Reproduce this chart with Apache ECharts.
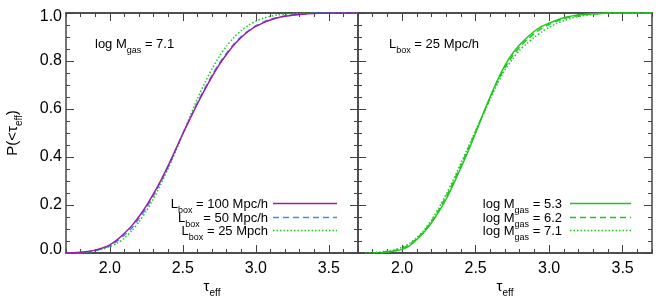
<!DOCTYPE html>
<html><head><meta charset="utf-8">
<script src="https://cdn.jsdelivr.net/npm/echarts@6/dist/echarts.min.js"></script>
<style>html,body{margin:0;padding:0;background:#fff}#c{width:664px;height:299px}</style>
</head><body><div id="c"></div>
<script>
// ---------- data ----------
const tau = [1.70,1.75,1.80,1.85,1.90,1.95,2.00,2.05,2.10,2.15,2.20,2.25,2.30,2.35,2.40,2.45,2.50,2.55,2.60,2.65,2.70,2.75,2.80,2.85,2.90,2.95,3.00,3.05,3.10,3.15,3.20,3.25,3.30,3.35,3.40,3.45,3.50,3.55,3.60,3.65,3.70];

// left panel: log Mgas = 7.1, different box sizes
const lbox100 = [0.000,0.001,0.003,0.006,0.012,0.021,0.034,0.055,0.082,0.113,0.152,0.196,0.247,0.303,0.364,0.430,0.497,0.560,0.622,0.680,0.735,0.785,0.828,0.867,0.898,0.924,0.944,0.959,0.971,0.980,0.986,0.991,0.994,0.997,0.998,0.999,1,1,1,1,1];
const lbox50  = [0.000,0.001,0.002,0.005,0.010,0.018,0.030,0.049,0.074,0.104,0.143,0.188,0.240,0.298,0.360,0.428,0.497,0.562,0.626,0.685,0.740,0.790,0.833,0.871,0.902,0.927,0.947,0.962,0.974,0.982,0.988,0.992,0.995,0.997,0.999,1,1,1,1,1,1];
const lbox25  = [0.000,0.000,0.001,0.004,0.009,0.016,0.027,0.040,0.062,0.092,0.130,0.175,0.227,0.287,0.352,0.422,0.495,0.570,0.642,0.708,0.767,0.819,0.862,0.898,0.927,0.949,0.966,0.978,0.986,0.992,0.995,0.997,0.999,1,1,1,1,1,1,1,1];

// right panel: Lbox = 25 Mpc/h, different gas masses
const mgas53 = [null,null,null,0.000,0.004,0.008,0.015,0.030,0.056,0.087,0.126,0.172,0.225,0.288,0.355,0.425,0.500,0.578,0.652,0.722,0.782,0.830,0.868,0.898,0.924,0.944,0.958,0.970,0.980,0.987,0.992,0.995,0.997,0.999,1,1,1,1,1,1,1];
const mgas62 = [null,null,0.000,0.002,0.006,0.011,0.019,0.035,0.060,0.091,0.132,0.180,0.235,0.298,0.365,0.434,0.505,0.577,0.648,0.716,0.773,0.820,0.858,0.889,0.915,0.936,0.952,0.965,0.976,0.984,0.990,0.994,0.996,0.998,1,1,1,1,1,1,1];
const mgas71 = [null,0.000,0.002,0.004,0.008,0.014,0.024,0.040,0.064,0.096,0.138,0.188,0.245,0.308,0.374,0.442,0.510,0.576,0.642,0.708,0.763,0.807,0.845,0.873,0.899,0.921,0.940,0.956,0.968,0.978,0.985,0.990,0.994,0.997,0.999,1,1,1,1,1,1];

const xMajorTicks = [2.0, 2.5, 3.0, 3.5];
const leftLegend = ['{m|L}{s|box}{m| = 100 Mpc/h}', '{m|L}{s|box}{m| = 50 Mpc/h}', '{m|L}{s|box}{m| = 25 Mpch}'];
const rightLegend = ['{m|log M}{s|gas}{m| = 5.3}', '{m|log M}{s|gas}{m| = 6.2}', '{m|log M}{s|gas}{m| = 7.1}'];
const leftNote = '{m|log M}{s|gas}{m| = 7.1}';
const rightNote = '{m|L}{s|box}{m| = 25 Mpc/h}';
const xName = '{m|τ}{s|eff}';
const yName = '{m|P(<τ}{s|eff}{m|)}';

// ---------- styling ----------
const FONT = '"Liberation Sans", Arial, Helvetica, sans-serif';
const AX = '#444';
const PURPLE = '#9a1ea6', BLUE = '#3d8cf2', GREEN = '#1ec81e';

function pairs(vals) {
  return tau.map((t, i) => vals[i] == null ? null : [t, vals[i]]).filter(Boolean);
}

function xAxes(gi) {
  const base = {type: 'value', gridIndex: gi, min: 1.7, max: 3.7, splitLine: {show: false},
    axisLine: {onZero: false, lineStyle: {color: AX, width: 1.5}}};
  const tk = (len, extra) => Object.assign({inside: true, length: len, lineStyle: {color: AX, width: 1}}, extra || {});
  return [
    Object.assign({}, base, {position: 'bottom', interval: 0.1, axisTick: tk(4),
      axisLabel: {customValues: xMajorTicks, formatter: v => v.toFixed(1), fontSize: 16, color: '#000', fontFamily: FONT, margin: 8}}),
    Object.assign({}, base, {position: 'bottom', axisTick: tk(8, {customValues: xMajorTicks}), axisLabel: {show: false}}),
    Object.assign({}, base, {position: 'top', interval: 0.1, axisTick: tk(4), axisLabel: {show: false}}),
    Object.assign({}, base, {position: 'top', axisTick: tk(8, {customValues: xMajorTicks}), axisLabel: {show: false}})
  ];
}

function yAxes(gi, withLabels) {
  const base = {type: 'value', gridIndex: gi, min: 0, max: 1, interval: 0.2, splitLine: {show: false},
    axisLine: {onZero: false, lineStyle: {color: AX, width: 1.5}},
    axisTick: {inside: true, length: 8, lineStyle: {color: AX, width: 1}},
    minorTick: {show: true, splitNumber: 4, length: 4, lineStyle: {color: AX, width: 1}}};
  const lab = {fontSize: 16, color: '#000', fontFamily: FONT, margin: 4,
    formatter: v => v === 1 ? '{t|1.0}' : (v === 0 ? '{b|0.0}' : v.toFixed(1)),
    rich: {t: {fontSize: 16, fontFamily: FONT, color: '#000', padding: [8, 0, 0, 0]},
           b: {fontSize: 16, fontFamily: FONT, color: '#000', padding: [0, 0, 6, 0]}}};
  return [
    Object.assign({}, base, {position: 'left', axisLabel: withLabels ? lab : {show: false}}),
    Object.assign({}, base, {position: 'right', axisLabel: {show: false}})
  ];
}

const rich = {
  m: {fontSize: 13, fontFamily: FONT, fill: '#000', verticalAlign: 'top'},
  s: {fontSize: 9, fontFamily: FONT, fill: '#000', verticalAlign: 'top', padding: [8, 0, 0, 0]}
};
const richBig = {
  m: {fontSize: 15, fontFamily: FONT, fill: '#000', verticalAlign: 'top'},
  s: {fontSize: 10, fontFamily: FONT, fill: '#000', verticalAlign: 'top', padding: [9, 0, 0, 0]}
};

function txt(text, x, y, align, r) {
  return {type: 'text', x: x, y: y, silent: true,
    style: {text: text, rich: r || rich, align: align, verticalAlign: 'top', fontFamily: FONT}};
}
function sample(x1, x2, y, color, dash) {
  return {type: 'line', silent: true, shape: {x1: x1, y1: y, x2: x2, y2: y},
    style: {stroke: color, lineWidth: 1.5, lineDash: dash}};
}

const legendRows = [203.5, 217.5, 230.5];
const graphics = [
  txt(leftNote, 95, 38, 'left'),
  txt(rightNote, 389, 38, 'left'),
  txt(xName, 212, 279, 'center', richBig),
  txt(xName, 505, 279, 'center', richBig),
  {type: 'text', x: 15, y: 133, rotation: Math.PI / 2, silent: true,
   style: {text: yName, rich: richBig, align: 'center', verticalAlign: 'middle', fontFamily: FONT}}
];
const leftStyles = [[PURPLE, null], [BLUE, [6, 4]], [GREEN, [1.5, 2]]];
const rightStyles = [[GREEN, null], [GREEN, [6, 4]], [GREEN, [1.5, 2]]];
legendRows.forEach((y, i) => {
  graphics.push(txt(leftLegend[i], 268, y - 5.5, 'right'));
  graphics.push(sample(273, 337, y, leftStyles[i][0], leftStyles[i][1]));
  graphics.push(txt(rightLegend[i], 562, y - 5.5, 'right'));
  graphics.push(sample(570, 631, y, rightStyles[i][0], rightStyles[i][1]));
});

function line(vals, xi, yi, color, type) {
  return {type: 'line', xAxisIndex: xi, yAxisIndex: yi, data: pairs(vals), showSymbol: false, symbol: 'none',
    smooth: 0.25, lineStyle: {color: color, width: 1.5, type: type}, silent: true};
}

const chart = echarts.init(document.getElementById('c'), null, {renderer: 'canvas'});
chart.setOption({
  animation: false,
  backgroundColor: '#fff',
  grid: [
    {left: 66, top: 13, width: 292, height: 240},
    {left: 358, top: 13, width: 294, height: 240}
  ],
  xAxis: xAxes(0).concat(xAxes(1)),
  yAxis: yAxes(0, true).concat(yAxes(1, false)),
  series: [
    line(lbox25, 0, 0, GREEN, [1.5, 2]),
    line(lbox50, 0, 0, BLUE, [6, 4]),
    line(lbox100, 0, 0, PURPLE, 'solid'),
    line(mgas71, 4, 2, GREEN, [1.5, 2]),
    line(mgas62, 4, 2, GREEN, [6, 4]),
    line(mgas53, 4, 2, GREEN, 'solid')
  ],
  graphic: graphics
});
</script>
</body></html>
